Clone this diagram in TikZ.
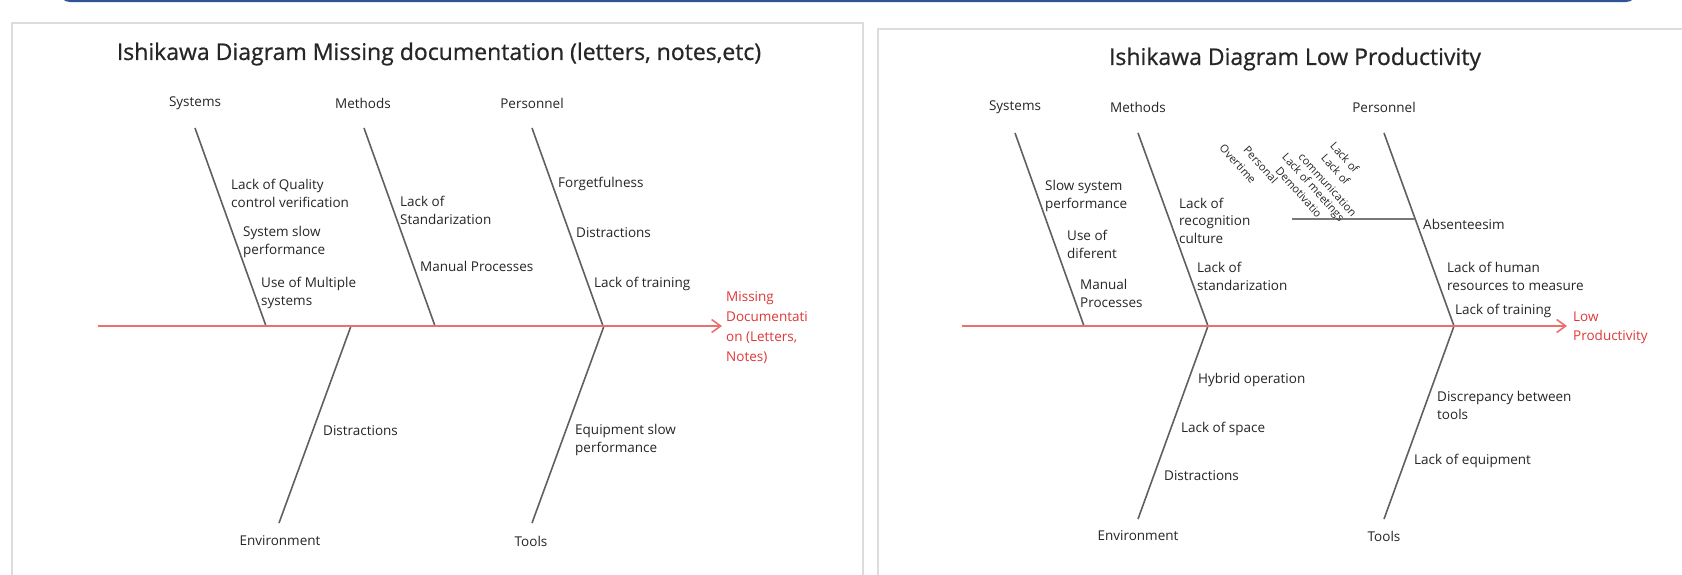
\documentclass[tikz,border=0pt]{standalone}
\usepackage{fontspec}
\setmainfont{Open Sans}
\newfontfamily\headfont[FakeBold=0.7]{Open Sans}
\usetikzlibrary{arrows.meta}

\definecolor{bonegray}{RGB}{96,96,96}
\definecolor{spinered}{RGB}{234,112,112}
\definecolor{effectred}{RGB}{224,56,56}
\definecolor{panelgray}{RGB}{220,220,220}
\definecolor{barblue}{RGB}{47,85,151}
\definecolor{inkgray}{RGB}{38,38,38}

\tikzset{
  cause/.style={anchor=west, inner sep=0pt, align=left, text=inkgray,
    font=\fontsize{13.5}{18}\selectfont},
  category/.style={inner sep=0pt, text=inkgray, font=\fontsize{13.5}{18}\selectfont},
  effect/.style={anchor=west, inner sep=0pt, align=left, text=effectred,
    font=\fontsize{13.5}{20}\selectfont},
  heading/.style={inner sep=0pt, text=inkgray, font=\headfont\fontsize{23}{26}\selectfont},
  slanted/.style={anchor=north west, inner sep=0pt, rotate=-48, text=inkgray,
    font=\fontsize{11}{13}\selectfont},
  bone/.style={bonegray, line width=1.6pt},
  spine/.style={spinered, line width=2.2pt,
    -{Straight Barb[length=9pt, width=13pt, line width=1.6pt]}},
  panel/.style={panelgray, line width=2pt}
}

\begin{document}
\begin{tikzpicture}[x=1pt, y=-1pt]
\useasboundingbox (0,0) rectangle (1682,574);
\clip (0,0) rectangle (1682,574);
\fill[white] (0,0) rectangle (1682,574);

% Frames
\draw[barblue, line width=2pt, rounded corners=10pt] (60,-30) rectangle (1636,1);
\draw[panel] (12,23) rectangle (863,620);
\draw[panel] (878,29) rectangle (1720,620);

% ---------- Missing documentation ----------
\node[heading] (titleA) at (439,54) {Ishikawa Diagram Missing documentation (letters, notes,etc)};

\node[category] (sysA) at (195,103) {Systems};
\node[category] (metA) at (363,103) {Methods};
\node[category] (perA) at (532,103) {Personnel};
\node[category] (envA) at (280,541) {Environment};
\node[category] (tooA) at (531,541) {Tools};

\coordinate (tailA) at (98,326);
\coordinate (headA) at (722,326);
\coordinate (sysTopA) at (195,128);  \coordinate (sysBotA) at (266,326);
\coordinate (metTopA) at (364,128);  \coordinate (metBotA) at (435,326);
\coordinate (perTopA) at (532,128);  \coordinate (perBotA) at (603,326);
\coordinate (envTopA) at (351,326);  \coordinate (envBotA) at (279,523);
\coordinate (tooTopA) at (604,326);  \coordinate (tooBotA) at (532,523);

\draw[bone] (sysTopA) -- (sysBotA);
\draw[bone] (metTopA) -- (metBotA);
\draw[bone] (perTopA) -- (perBotA);
\draw[bone] (envTopA) -- (envBotA);
\draw[bone] (tooTopA) -- (tooBotA);
\draw[spine] (tailA) -- (headA);

\node[cause] (qualA) at (231,193) {Lack of Quality\\control verification};
\node[cause] (slowA) at (243,242) {System slow\\performance};
\node[cause] (multA) at (261,293) {Use of Multiple\\systems};
\node[cause] (stanA) at (400,210) {Lack of\\Standarization};
\node[cause] (manuA) at (420,266) {Manual Processes};
\node[cause] (forgA) at (558,184) {Forgetfulness};
\node[cause] (distA) at (576,233) {Distractions};
\node[cause] (trainA) at (594,284) {Lack of training};
\node[cause] (envdA) at (323,431) {Distractions};
\node[cause] (equiA) at (575,440) {Equipment slow\\performance};
\node[effect] (effA) at (726,327.5) {Missing\\Documentati\\on (Letters,\\Notes)};

% ---------- Low productivity ----------
\node[heading] (titleB) at (1295,59) {Ishikawa Diagram Low Productivity};

\node[category] (sysB) at (1015,107) {Systems};
\node[category] (metB) at (1138,107) {Methods};
\node[category] (perB) at (1384,107) {Personnel};
\node[category] (envB) at (1138,536) {Environment};
\node[category] (tooB) at (1384,536) {Tools};

\coordinate (tailB) at (962,326);
\coordinate (headB) at (1567,326);
\coordinate (sysTopB) at (1015,133);  \coordinate (sysBotB) at (1084,326);
\coordinate (metTopB) at (1138,133);  \coordinate (metBotB) at (1208,326);
\coordinate (perTopB) at (1384,133);  \coordinate (perBotB) at (1454,326);
\coordinate (envTopB) at (1208,326);  \coordinate (envBotB) at (1138,519);
\coordinate (tooTopB) at (1454,326);  \coordinate (tooBotB) at (1384,519);
\coordinate (subEndB) at (1292,219);
\coordinate (subRootB) at (1415,219);

\draw[bone] (sysTopB) -- (sysBotB);
\draw[bone] (metTopB) -- (metBotB);
\draw[bone] (perTopB) -- (perBotB);
\draw[bone] (envTopB) -- (envBotB);
\draw[bone] (tooTopB) -- (tooBotB);
\draw[bonegray!85, line width=2.4pt] (subEndB) -- (subRootB);
\draw[spine] (tailB) -- (headB);

\node[cause] (slowB) at (1045,195.5) {Slow system\\performance};
\node[cause] (diffB) at (1067,244) {Use of\\diferent};
\node[cause] (manuB) at (1080,293) {Manual\\Processes};
\node[cause, font=\fontsize{13.5}{17.5}\selectfont] (recoB) at (1179,220.5) {Lack of\\recognition\\culture};
\node[cause] (stanB) at (1197,276.5) {Lack of\\standarization};
\node[cause] (absB) at (1423,224) {Absenteesim};
\node[cause] (humB) at (1447,276) {Lack of human\\resources to measure};
\node[cause] (trainB) at (1455,311) {Lack of training};
\node[cause] (hybB) at (1198,380) {Hybrid operation};
\node[cause] (spacB) at (1181,429) {Lack of space};
\node[cause] (distB) at (1164,476) {Distractions};
\node[cause] (discB) at (1437,405.5) {Discrepancy between\\tools};
\node[cause] (equiB) at (1414,461) {Lack of equipment};
\node[effect, font=\fontsize{13.5}{19}\selectfont] (effB) at (1573,327.5) {Low\\Productivity};

% Crowded labels on the Absenteesim branch
\node[slanted] (overB) at (1225,143) {Overtime};
\node[slanted] (persB) at (1249,145) {Personal};
\node[slanted] (demoB) at (1281,166) {Demotivatio};
\node[slanted] (meetB) at (1288,152) {Lack of meetings};
\node[slanted] (commB) at (1304,152) {communication};
\node[slanted] (lackB) at (1327,153) {Lack of};
\node[slanted] (lackbB) at (1336,141) {Lack of};
\end{tikzpicture}
\end{document}
